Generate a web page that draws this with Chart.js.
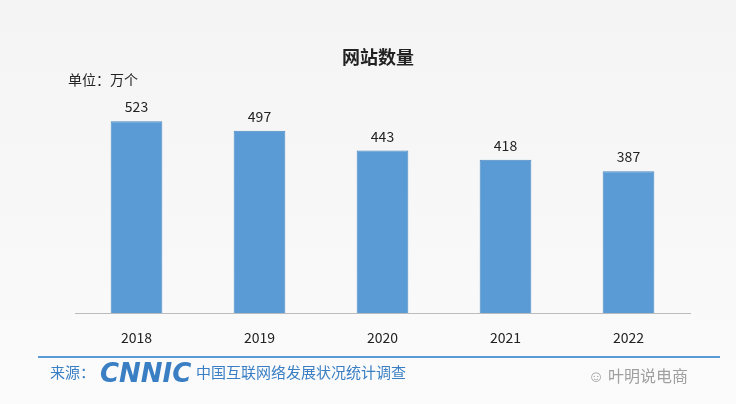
<!DOCTYPE html>
<html><head><meta charset="utf-8">
<script src="https://cdn.jsdelivr.net/npm/chart.js@4"></script>
<style>html,body{margin:0;padding:0;background:#f7f7f7}#w{width:736px;height:404px;position:relative;background:linear-gradient(#f4f4f4,#fbfbfb)}</style>
</head><body><div id="w"><canvas id="c"></canvas></div>
<script>
const categories=["2018","2019","2020","2021","2022"];
const values=[523,497,443,418,387];
const title="网站数量";
const unit="单位：万个";
const ff='"Noto Sans CJK SC","Noto Sans",sans-serif';
const deco={id:'deco',afterDraw(ch){
 const c=ch.ctx, m=ch.getDatasetMeta(0);
 c.save();
 c.fillStyle='#222';c.font='bold 18px '+ff;c.textAlign='center';c.fillText(title,378,64);
 c.font='14px '+ff;c.textAlign='left';c.fillText(unit,68,85);
 c.font='14px '+ff;c.textAlign='center';
 m.data.forEach((b,i)=>c.fillText(values[i],b.x,b.y-9));
 c.strokeStyle='#5b9bd5';c.lineWidth=2;c.beginPath();c.moveTo(38,357);c.lineTo(720,357);c.stroke();
 c.fillStyle='#3a7fc4';c.font='15px '+ff;c.textAlign='left';c.fillText('来源：',50,378);
 c.font='bold italic 26px "DejaVu Sans",sans-serif';c.fillText('CNNIC',100,382);
 c.font='15px '+ff;c.fillText('中国互联网络发展状况统计调查',196,378);
 c.fillStyle='rgba(120,120,120,0.7)';c.font='16px '+ff;c.fillText('☺ 叶明说电商',588,382);
 c.restore();
}};
new Chart(document.getElementById('c'),{type:'bar',
 data:{labels:categories,datasets:[{data:values,backgroundColor:'#5b9bd5',borderColor:'#4a88c2',borderWidth:1,categoryPercentage:1,barPercentage:0.42}]},
 options:{responsive:true,maintainAspectRatio:false,animation:false,
  layout:{padding:{left:75,right:46,top:93,bottom:50}},
  plugins:{legend:{display:false},tooltip:{enabled:false}},
  scales:{y:{display:false,min:0,max:600},
   x:{grid:{display:false},border:{color:'#bbb'},ticks:{color:'#222',font:{size:14,family:ff},padding:8}}}},
 plugins:[deco]});
</script></body></html>
